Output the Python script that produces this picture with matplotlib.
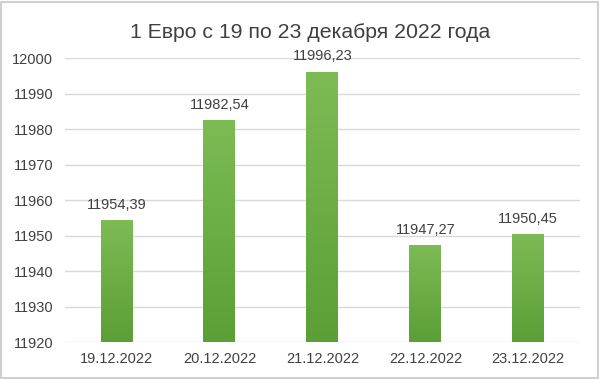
import numpy as np
import matplotlib.pyplot as plt
from matplotlib.colors import LinearSegmentedColormap
from matplotlib.patches import Rectangle

dates = ["19.12.2022", "20.12.2022", "21.12.2022", "22.12.2022", "23.12.2022"]
values = [11954.39, 11982.54, 11996.23, 11947.27, 11950.45]
labels = ["11954,39", "11982,54", "11996,23", "11947,27", "11950,45"]
yticks = [11920, 11930, 11940, 11950, 11960, 11970, 11980, 11990, 12000]

plt.rcParams['font.family'] = ['Liberation Sans', 'DejaVu Sans']
txt = "#404040"

fig = plt.figure(figsize=(6, 3.79), dpi=100)
ax = fig.add_axes([0.1083, 0.0976, 0.858, 0.749])

x = np.arange(len(dates))
bars = ax.bar(x, values, width=0.31, color="none", zorder=3)

# vertical gradient inside each bar
cmap = LinearSegmentedColormap.from_list("g", ["#5b9f36", "#7dbb55"])
grad = np.linspace(0, 1, 256).reshape(-1, 1)
for b in bars:
    x0, w, h = b.get_x(), b.get_width(), b.get_height()
    im = ax.imshow(grad, cmap=cmap, aspect="auto", origin="lower",
                   extent=[x0, x0 + w, 11920, h], zorder=3)
    im.set_clip_path(b)

for xi, v, lab in zip(x, values, labels):
    ax.annotate(lab, (xi, v), xytext=(0, 6), textcoords="offset points",
                ha="center", va="bottom", fontsize=10.5, color=txt, zorder=4)

ax.set_xlim(-0.5, len(dates) - 0.5)
ax.set_ylim(11920, 12000)
ax.set_yticks(yticks)
ax.set_yticklabels([str(t) for t in yticks])
ax.set_xticks(x)
ax.set_xticklabels(dates)
ax.tick_params(axis="both", length=0, labelsize=10.5, colors=txt)
ax.tick_params(axis="y", pad=8.5)
ax.tick_params(axis="x", pad=7)
ax.grid(axis="y", color="#d9d9d9", linewidth=1, zorder=0)
for s in ax.spines.values():
    s.set_visible(False)

fig.text(0.517, 0.913, "1 Евро с 19 по 23 декабря 2022 года", ha="center", va="center",
         fontsize=15.3, color=txt)

fig.patches.append(Rectangle((0.002, 0.003), 0.995, 0.993, transform=fig.transFigure,
                             fill=False, edgecolor="#d0d0d0", linewidth=1.5))

fig.savefig("out.png", dpi=100)
